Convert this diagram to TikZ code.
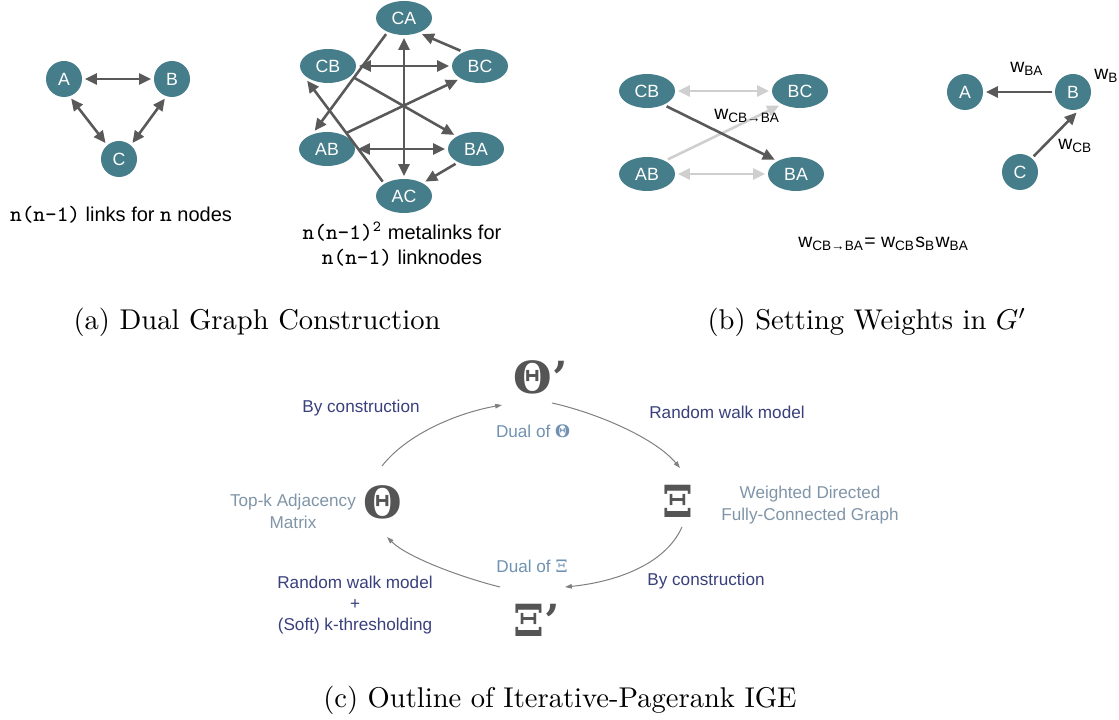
\documentclass[tikz,border=0pt]{standalone}
\usepackage{amsmath}
\usepackage{fontspec}
\setsansfont{Liberation Sans}
\newfontfamily\symfont{DejaVu Serif}
\newcommand\codett[1]{{\ttfamily\fontsize{7.7}{8.75}\selectfont #1}}
\usetikzlibrary{arrows.meta,calc,shapes.geometric}

\definecolor{nodeteal}{HTML}{457E8A}
\definecolor{arrowgray}{HTML}{595959}
\definecolor{fadegray}{HTML}{CFCFCF}
\definecolor{flowgray}{HTML}{808080}
\definecolor{navy}{HTML}{39407C}
\definecolor{slate}{HTML}{8095A8}
\definecolor{dualblue}{HTML}{7092B2}
\definecolor{symgray}{HTML}{555555}

\begin{document}
\begin{tikzpicture}[x = 0.35pt, y = -0.35pt, line width = 0.9pt,
		>={Triangle[length = 4.2pt, width = 3.8pt]},
		vtx/.style = {circle, fill = nodeteal, text = white, minimum size = 12.6pt,
			inner sep = 0pt, outer sep = 1pt, font = \sffamily\fontsize{6.2}{7}\selectfont},
		lnk/.style = {ellipse, fill = nodeteal, text = white, minimum width = 19.6pt,
			minimum height = 11.9pt, inner sep = 0pt, outer sep = 1pt,
			font = \sffamily\fontsize{6.2}{7}\selectfont},
		arw/.style = {draw = arrowgray, ->},
		twin/.style = {draw = arrowgray, <->},
		faded/.style = {draw = fadegray},
		flow/.style = {draw = flowgray, line width = 0.35pt,
			-{Triangle[length = 2.4pt, width = 1.6pt]}},
		capt/.style = {font = \fontsize{10}{12}\selectfont, anchor = base},
		note/.style = {font = \sffamily\fontsize{7}{8.75}\selectfont, align = center},
		wlbl/.style = {font = \sffamily\fontsize{6.8}{8}\selectfont, anchor = base west,
			inner sep = 0pt},
		how/.style = {text = navy, font = \sffamily\fontsize{6}{7.5}\selectfont, align = center},
		what/.style = {text = slate, font = \sffamily\fontsize{6}{7.7}\selectfont, align = center},
		dual/.style = {text = dualblue, font = \sffamily\fontsize{6}{7}\selectfont, anchor = base},
		sym/.style = {text = symgray, font = \symfont\bfseries\fontsize{15.5}{17}\selectfont,
			inner sep = 0pt}]

	\path [use as bounding box, fill = white] (0,0) rectangle (1119,720);

	% (a) dual graph construction
	\node [vtx] (g_A) at (64,79) {A};
	\node [vtx] (g_B) at (172,79) {B};
	\node [vtx] (g_C) at (119,159) {C};

	\draw [twin] (g_A) -- (g_B);
	\draw [twin] (g_A.290) -- (g_C.130);
	\draw [twin] (g_B.250) -- (g_C.50);
	\node [note, anchor = base] (t_links) at (121,222) {\codett{n(n-1)} links for \codett{n} nodes};

	\node [lnk] (m_CA) at (404,18) {CA};
	\node [lnk] (m_CB) at (328,66) {CB};
	\node [lnk] (m_BC) at (480,66) {BC};
	\node [lnk] (m_AB) at (327,149) {AB};
	\node [lnk] (m_BA) at (476,149) {BA};
	\node [lnk] (m_AC) at (404,196) {AC};

	\draw [twin] (m_CB) -- (m_BC);
	\draw [twin] (m_AB) -- (m_BA);
	\draw [twin] (m_CA) -- (m_AC);
	\draw [arw] (m_BC.142) -- (m_CA.318);
	\draw [arw] (m_BA.216) -- (m_AC.34);
	\draw [arw] (m_CA.222) -- (m_AB.124);
	\draw [arw] (m_AB.40) -- (m_BC.212);
	\draw [arw] (m_CB.336) -- (m_BA.147);
	\draw [arw] (m_AC.146) -- (m_CB.215);
	\node [note] (t_meta) at (402,244) {\codett{n(n-1)\textsuperscript{2}} metalinks for\\\codett{n(n-1)} linknodes};

	% (b) weights
	\node [lnk] (b_CB) at (647,91) {CB};
	\node [lnk] (b_BC) at (800,91) {BC};
	\node [lnk] (b_AB) at (647,174) {AB};
	\node [lnk] (b_BA) at (796,174) {BA};

	\draw [faded, <->] (b_CB) -- (b_BC);
	\draw [faded, <->] (b_AB) -- (b_BA);
	\draw [faded, ->] (b_AB.35) -- (b_BC.215);
	\draw [arw] (b_CB.322) -- (b_BA.146);
	\node [wlbl] (l_CBBA) at (713,120) {w\textsubscript{CB→BA}};

	\node [vtx] (w_A) at (965,92) {A};
	\node [vtx] (w_B) at (1073,92) {B};
	\node [vtx] (w_C) at (1020,172) {C};

	\draw [arw] (w_B) -- (w_A);
	\draw [arw] (w_C.49) -- (w_B.280);
	\node [wlbl] (l_BA) at (1009,73) {w\textsubscript{BA}};
	\node [wlbl] (l_B) at (1093,80) {w\textsubscript{B}};
	\node [wlbl] (l_CB) at (1057,150) {w\textsubscript{CB}};
	\node [wlbl] (l_rule) at (797,248) {w\textsubscript{CB→BA}= w\textsubscript{CB}s\textsubscript{B}w\textsubscript{BA}};

	\node [capt] (c_a) at (257,330) {(a) Dual Graph Construction};
	\node [capt] (c_b) at (867,330) {(b) Setting Weights in $G'$};

	% (c) outline
	\node [sym] (p_T) at (383,502) {Θ};
	\node [sym] (p_TD) at (533,377) {Θ\rlap{’}};
	\node [sym] (p_X) at (678,501) {Ξ};
	\node [sym] (p_XD) at (529,620) {Ξ\rlap{’}};

	\node [dual] (d_T) at (533,437) {Dual of {\symfont\bfseries Θ}};
	\node [dual] (d_X) at (532,572) {Dual of {\symfont Ξ}};
	\node [what] (s_T) at (293,511) {Top-k Adjacency\\Matrix};
	\node [what] (s_X) at (810,505) {Weighted Directed\\Fully-Connected Graph};
	\node [how, anchor = base] (h_1) at (361,412) {By construction};
	\node [how, anchor = base] (h_2) at (727,418) {Random walk model};
	\node [how, anchor = base] (h_3) at (706,585) {By construction};
	\node [how] (h_4) at (355,605) {Random walk model\\+\\(Soft) k-thresholding};

	\draw [flow] ($(p_T.center)+(-1,-36)$) .. controls (407,434) and (457,413) .. ($(p_TD.center)+(-31,28)$);
	\draw [flow] ($(p_TD.center)+(19,26)$) .. controls (597,413) and (655,438) .. ($(p_X.center)+(2,-33)$);
	\draw [flow] ($(p_X.center)+(4,26)$) .. controls (665,565) and (615,582) .. ($(p_XD.center)+(36,-33)$);
	\draw [flow] ($(p_XD.center)+(-29,-33)$) .. controls (460,577) and (407,557) .. ($(p_T.center)+(4,35)$);

	\node [capt] (c_c) at (560,707) {(c) Outline of Iterative-Pagerank IGE};
\end{tikzpicture}
\end{document}
